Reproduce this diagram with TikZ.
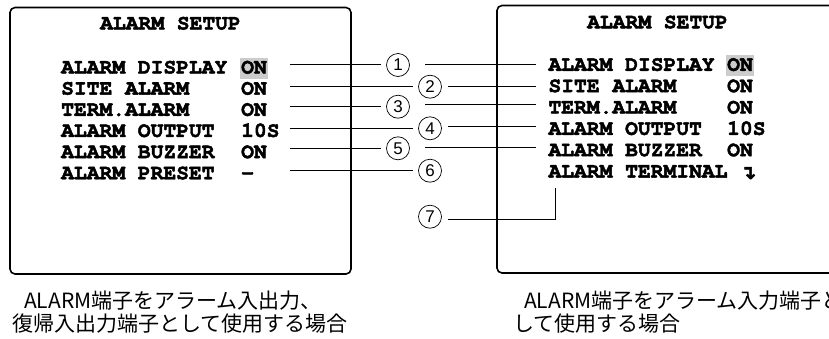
\documentclass[tikz,border=0pt]{standalone}
\usepackage[T1,TU]{fontenc}
\usepackage{fontspec}
\setmainfont{Liberation Sans}
\newfontfamily\jpfont{Noto Sans CJK JP}
\newfontfamily\symfont{DejaVu Sans}
\newcommand\osdfont{\fontencoding{T1}\fontfamily{pcr}\fontseries{b}\fontshape{n}}
\newcommand\heavy{\special{pdf:literal direct 2 Tr 0.45 w}}
\newcommand\unheavy{\special{pdf:literal direct 0 Tr}}
\usetikzlibrary{positioning}
\definecolor{hl}{gray}{0.8}

\begin{document}
\begin{tikzpicture}[x=1pt, y=-1pt,
    screen/.style={line width=1.6pt, rounded corners=5pt},
    osd/.style={anchor=base west, inner sep=0pt, font=\osdfont\fontsize{21.3}{21.3}\selectfont,
        execute at begin node=\heavy, execute at end node=\unheavy},
    osdon/.style={osd, fill=hl, inner xsep=1.5pt, text height=15.5pt, text depth=5pt},
    num/.style={circle, draw, line width=0.7pt, minimum size=23pt, inner sep=0pt, font=\fontsize{17}{17}\selectfont},
    lead/.style={line width=0.9pt},
    caption/.style={anchor=base west, inner sep=0pt, font=\jpfont\fontsize{21}{21}\selectfont}]
    \useasboundingbox (0,0) rectangle (829,338);

    % Left screen
    \draw[screen] (10,7.5) rectangle (351,274);
    \node[osd] (ltitle) at (100,29.5) {ALARM SETUP};
    \node[osd] (ll1) at (61,73.5) {ALARM DISPLAY};
    \node[osd] (ll2) at (61,94.65) {SITE ALARM};
    \node[osd] (ll3) at (61,115.8) {TERM.ALARM};
    \node[osd] (ll4) at (61,136.95) {ALARM OUTPUT};
    \node[osd] (ll5) at (61,158.1) {ALARM BUZZER};
    \node[osd] (ll6) at (61,179.25) {ALARM PRESET};
    \node[osdon] (lv1) at (239.5,73.5) {ON};
    \node[osd] (lv2) at (241,94.65) {ON};
    \node[osd] (lv3) at (241,115.8) {ON};
    \node[osd] (lv4) at (241,136.95) {10S};
    \node[osd] (lv5) at (241,158.1) {ON};
    \node[osd] (lv6) at (241,179.25) {-};

    % Right screen
    \draw[screen] (497,5.5) rectangle (845,273);
    \node[osd] (rtitle) at (587,28.3) {ALARM SETUP};
    \node[osd] (rl1) at (548.3,70.8) {ALARM DISPLAY};
    \node[osd] (rl2) at (548.3,92.15) {SITE ALARM};
    \node[osd] (rl3) at (548.3,113.5) {TERM.ALARM};
    \node[osd] (rl4) at (548.3,134.85) {ALARM OUTPUT};
    \node[osd] (rl5) at (548.3,156.2) {ALARM BUZZER};
    \node[osd] (rl6) at (548.3,177.55) {ALARM TERMINAL};
    \node[osdon] (rv1) at (725.5,70.8) {ON};
    \node[osd] (rv2) at (727,92.15) {ON};
    \node[osd] (rv3) at (727,113.5) {ON};
    \node[osd] (rv4) at (727,134.85) {10S};
    \node[osd] (rv5) at (727,156.2) {ON};
    \node[osd, font=\symfont\bfseries\fontsize{19}{19}\selectfont] (rv6) at (740,179) {↴};

    % Numbers
    \node[num] (c1) at (398,65) {1};
    \node[num] (c2) at (430,86.7) {2};
    \node[num] (c3) at (398,106.7) {3};
    \node[num] (c4) at (430,128.3) {4};
    \node[num] (c5) at (398,148.3) {5};
    \node[num] (c6) at (430,170.7) {6};
    \node[num] (c7) at (430,216.7) {7};

    % Leaders, left screen
    \coordinate (a1) at (290,64.3);
    \coordinate (a2) at (290,86);
    \coordinate (a3) at (290,106);
    \coordinate (a4) at (290,128.3);
    \coordinate (a5) at (290,148.3);
    \coordinate (a6) at (290,170.7);
    \draw[lead, shorten >=4.8pt] (a1) -- (a1 -| c1.west);
    \draw[lead, shorten >=4.8pt] (a2) -- (a2 -| c2.west);
    \draw[lead, shorten >=4.8pt] (a3) -- (a3 -| c3.west);
    \draw[lead, shorten >=4.8pt] (a4) -- (a4 -| c4.west);
    \draw[lead, shorten >=4.8pt] (a5) -- (a5 -| c5.west);
    \draw[lead, shorten >=4.8pt] (a6) -- (a6 -| c6.west);

    % Leaders, right screen
    \coordinate (b1) at (536,64.3);
    \coordinate (b2) at (536,86);
    \coordinate (b3) at (536,104.3);
    \coordinate (b4) at (536,126.7);
    \coordinate (b5) at (536,147.3);
    \coordinate (k7) at (555.7,219.3);
    \coordinate (t7) at (555.7,188.3);
    \draw[lead, shorten <=15.3pt] (c1.east |- b1) -- (b1);
    \draw[lead, shorten <=6.6pt] (c2.east |- b2) -- (b2);
    \draw[lead, shorten <=15.3pt] (c3.east |- b3) -- (b3);
    \draw[lead, shorten <=6.6pt] (c4.east |- b4) -- (b4);
    \draw[lead, shorten <=15.3pt] (c5.east |- b5) -- (b5);
    \draw[lead, shorten <=6.6pt] (c7.east |- k7) -- (k7) -- (t7);

    % Captions
    \node[caption] (cap1a) at (24,308.5) {ALARM端子をアラーム入出力、};
    \node[caption] (cap1b) at (12,331) {復帰入出力端子として使用する場合};
    \node[caption] (cap2a) at (524,308.5) {ALARM端子をアラーム入力端子と};
    \node[caption] (cap2b) at (513,331) {して使用する場合};
\end{tikzpicture}
\end{document}
